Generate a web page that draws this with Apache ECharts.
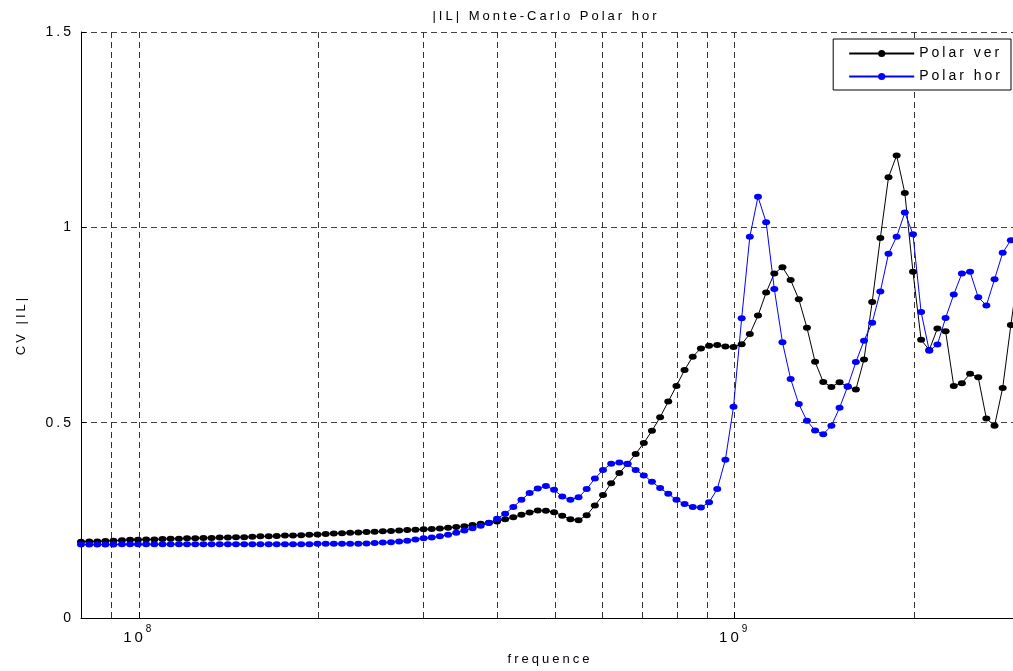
<!DOCTYPE html>
<html>
<head>
<meta charset="utf-8">
<title>|IL| Monte-Carlo Polar hor</title>
<script src="https://cdn.jsdelivr.net/npm/echarts@6/dist/echarts.min.js"></script>
<style>
  html, body { margin: 0; padding: 0; background: #fff; }
  #chart { width: 1013px; height: 671px; }
</style>
</head>
<body>
<div id="chart"></div>
<script>
// Wide, plotter-style character spacing for every canvas string
(function () {
  const proto = CanvasRenderingContext2D.prototype;
  const fill = proto.fillText;
  const measure = proto.measureText;
  proto.fillText = function () { this.letterSpacing = '3px'; return fill.apply(this, arguments); };
  proto.measureText = function () { this.letterSpacing = '3px'; return measure.apply(this, arguments); };
})();

// Sweep frequencies, MHz (logarithmic sweep 80 MHz .. 3 GHz, 116 points)
const freqMHz = [
  80.0, 82.6, 85.2, 87.9, 90.7, 93.7, 96.7, 99.7, 102.9, 106.2,
  109.6, 113.1, 116.8, 120.5, 124.4, 128.4, 132.5, 136.7, 141.1, 145.6,
  150.3, 155.1, 160.0, 165.2, 170.4, 175.9, 181.5, 187.3, 193.3, 199.5,
  205.9, 212.5, 219.3, 226.3, 233.6, 241.1, 248.8, 256.8, 265.0, 273.5,
  282.2, 291.3, 300.6, 310.2, 320.1, 330.4, 341.0, 351.9, 363.1, 374.8,
  386.8, 399.2, 411.9, 425.1, 438.7, 452.8, 467.3, 482.2, 497.7, 513.6,
  530.1, 547.0, 564.5, 582.6, 601.3, 620.5, 640.4, 660.9, 682.1, 703.9,
  726.4, 749.7, 773.7, 798.5, 824.0, 850.4, 877.7, 905.8, 934.8, 964.7,
  995.6, 1027.4, 1060.3, 1094.3, 1129.3, 1165.5, 1202.8, 1241.3, 1281.1, 1322.1,
  1364.4, 1408.1, 1453.2, 1499.7, 1547.7, 1597.3, 1648.4, 1701.2, 1755.7, 1811.9,
  1869.9, 1929.8, 1991.6, 2055.3, 2121.1, 2189.0, 2259.1, 2331.5, 2406.1, 2483.1,
  2562.7, 2644.7, 2729.4, 2816.8, 2907.0, 3000.0
];

// Coefficient of variation of |IL|, vertical polarisation
const cvPolarVer = [
  0.195, 0.196, 0.196, 0.197, 0.198, 0.199, 0.200, 0.200, 0.201, 0.201,
  0.202, 0.203, 0.203, 0.204, 0.204, 0.205, 0.205, 0.206, 0.206, 0.207,
  0.207, 0.208, 0.209, 0.209, 0.210, 0.211, 0.211, 0.212, 0.213, 0.214,
  0.215, 0.216, 0.217, 0.218, 0.219, 0.220, 0.221, 0.222, 0.223, 0.224,
  0.225, 0.226, 0.227, 0.228, 0.229, 0.231, 0.233, 0.235, 0.238, 0.241,
  0.244, 0.247, 0.253, 0.258, 0.264, 0.270, 0.275, 0.2745, 0.271, 0.262,
  0.253, 0.2505, 0.263, 0.288, 0.315, 0.345, 0.371, 0.395, 0.420, 0.448,
  0.479, 0.514, 0.554, 0.594, 0.635, 0.669, 0.690, 0.697, 0.699, 0.695,
  0.694, 0.701, 0.727, 0.774, 0.833, 0.882, 0.898, 0.865, 0.816, 0.743,
  0.656, 0.604, 0.5915, 0.6035, 0.592, 0.585, 0.662, 0.809, 0.973, 1.128,
  1.184, 1.088, 0.886, 0.712, 0.686, 0.741, 0.734, 0.594, 0.601, 0.625,
  0.616, 0.5105, 0.492, 0.589, 0.750, 0.900
];

// Coefficient of variation of |IL|, horizontal polarisation
const cvPolarHor = [
  0.188, 0.188, 0.188, 0.188, 0.188, 0.189, 0.189, 0.189, 0.189, 0.189,
  0.189, 0.189, 0.189, 0.189, 0.189, 0.189, 0.189, 0.189, 0.189, 0.189,
  0.189, 0.189, 0.189, 0.189, 0.189, 0.189, 0.189, 0.189, 0.189, 0.190,
  0.190, 0.190, 0.190, 0.190, 0.190, 0.191, 0.192, 0.193, 0.194, 0.196,
  0.198, 0.201, 0.204, 0.206, 0.209, 0.213, 0.218, 0.224, 0.230, 0.236,
  0.243, 0.254, 0.267, 0.284, 0.3025, 0.320, 0.3315, 0.338, 0.328, 0.311,
  0.3025, 0.309, 0.330, 0.357, 0.379, 0.395, 0.398, 0.394, 0.379, 0.365,
  0.349, 0.3325, 0.318, 0.3025, 0.292, 0.284, 0.283, 0.296, 0.330, 0.405,
  0.541, 0.767, 0.976, 1.078, 1.013, 0.842, 0.706, 0.612, 0.548, 0.5046,
  0.480, 0.4706, 0.492, 0.538, 0.593, 0.655, 0.710, 0.756, 0.836, 0.9325,
  0.976, 1.038, 0.982, 0.783, 0.684, 0.700, 0.768, 0.828, 0.882, 0.886,
  0.821, 0.800, 0.867, 0.935, 0.967, 0.990
];

const seriesNames = ['Polar ver', 'Polar hor'];
const seriesColors = ['#000000', '#0000ff'];

// Minor log-grid positions (Hz)
const minorGridHz = [9e7, 2e8, 3e8, 4e8, 5e8, 6e8, 7e8, 8e8, 9e8, 2e9];

// Axis ranges and labels
const xRangeHz = [8e7, 3e9];
const yRange = [0, 1.5];
const yStep = 0.5;
const titleText = '|IL| Monte-Carlo Polar hor';
const xName = 'frequence';
const yName = 'CV |IL|';

const FONT = '"Liberation Sans", Arial, Helvetica, sans-serif';

function toPairs(values) {
  return values.map((v, i) => [freqMHz[i] * 1e6, v]);
}

const chart = echarts.init(document.getElementById('chart'), null, { renderer: 'canvas' });

const gridDash = [6, 4];

const option = {
  animation: false,
  backgroundColor: '#ffffff',
  title: {
    text: titleText,
    left: 546,
    top: 8,
    padding: 0,
    textAlign: 'center',
    textStyle: { fontFamily: FONT, fontSize: 13, fontWeight: 'normal', color: '#000' }
  },
  legend: {
    data: seriesNames,
    orient: 'vertical',
    right: 2,
    top: 39,
    backgroundColor: '#fff',
    borderColor: '#000',
    borderWidth: 1,
    borderRadius: 0,
    padding: [6, 8, 5, 15],
    itemGap: 6,
    itemWidth: 65,
    itemHeight: 9,
    textStyle: { fontFamily: FONT, fontSize: 14, color: '#000' }
  },
  // the frame runs past the right edge of the page, so it is not kept inside the canvas
  grid: { left: 81, top: 32, width: 938, height: 586, outerBoundsMode: 'none', containLabel: false },
  xAxis: {
    type: 'log',
    logBase: 10,
    min: xRangeHz[0],
    max: xRangeHz[1],
    name: xName,
    nameLocation: 'middle',
    nameGap: 29,
    nameTextStyle: { fontFamily: FONT, fontSize: 13, color: '#000' },
    axisLine: { lineStyle: { color: '#000', width: 1 } },
    axisTick: { inside: true, length: 6, lineStyle: { color: '#000' } },
    axisLabel: {
      margin: 5,
      color: '#000',
      formatter: function (val) {
        const e = Math.log10(val);
        if (Math.abs(e - Math.round(e)) < 1e-6) {
          return '{b|10}{e|' + Math.round(e) + '}';
        }
        return '';
      },
      rich: {
        b: { fontFamily: FONT, fontSize: 15, color: '#000', lineHeight: 24, verticalAlign: 'bottom' },
        e: { fontFamily: FONT, fontSize: 10, color: '#000', lineHeight: 10, verticalAlign: 'top' }
      }
    },
    splitLine: { show: true, lineStyle: { type: gridDash, color: '#333', width: 1 } }
  },
  yAxis: {
    type: 'value',
    min: yRange[0],
    max: yRange[1],
    interval: yStep,
    name: yName,
    nameLocation: 'middle',
    nameGap: 52,
    nameRotate: 90,
    nameTextStyle: { fontFamily: FONT, fontSize: 13, color: '#000' },
    axisLine: { show: true, lineStyle: { color: '#000', width: 1 } },
    axisTick: { show: true, inside: true, length: 5, lineStyle: { color: '#000' } },
    axisLabel: { fontFamily: FONT, fontSize: 14, color: '#000', margin: 7 },
    splitLine: { show: true, lineStyle: { type: gridDash, color: '#444', width: 1 } }
  },
  series: [
    {
      // carrier for the dashed minor grid of the log axis, kept beneath the curves
      name: 'minor grid',
      type: 'line',
      data: [],
      z: 1,
      silent: true,
      markLine: {
        silent: true,
        z: 1,
        symbol: ['none', 'none'],
        label: { show: false },
        emphasis: { disabled: true },
        lineStyle: { type: gridDash, color: '#333', width: 1 },
        data: minorGridHz.map(v => ({ xAxis: v }))
      }
    },
    {
      name: seriesNames[0],
      type: 'line',
      data: toPairs(cvPolarVer),
      symbol: 'circle',
      symbolSize: [8, 6],
      showAllSymbol: true,
      color: seriesColors[0],
      itemStyle: { color: seriesColors[0] },
      lineStyle: { color: seriesColors[0], width: 1 },
      emphasis: { disabled: true },
      z: 2
    },
    {
      name: seriesNames[1],
      type: 'line',
      data: toPairs(cvPolarHor),
      symbol: 'circle',
      symbolSize: [8, 6],
      showAllSymbol: true,
      color: seriesColors[1],
      itemStyle: { color: seriesColors[1] },
      lineStyle: { color: seriesColors[1], width: 1 },
      emphasis: { disabled: true },
      z: 2
    }
  ]
};

chart.setOption(option);
</script>
</body>
</html>
